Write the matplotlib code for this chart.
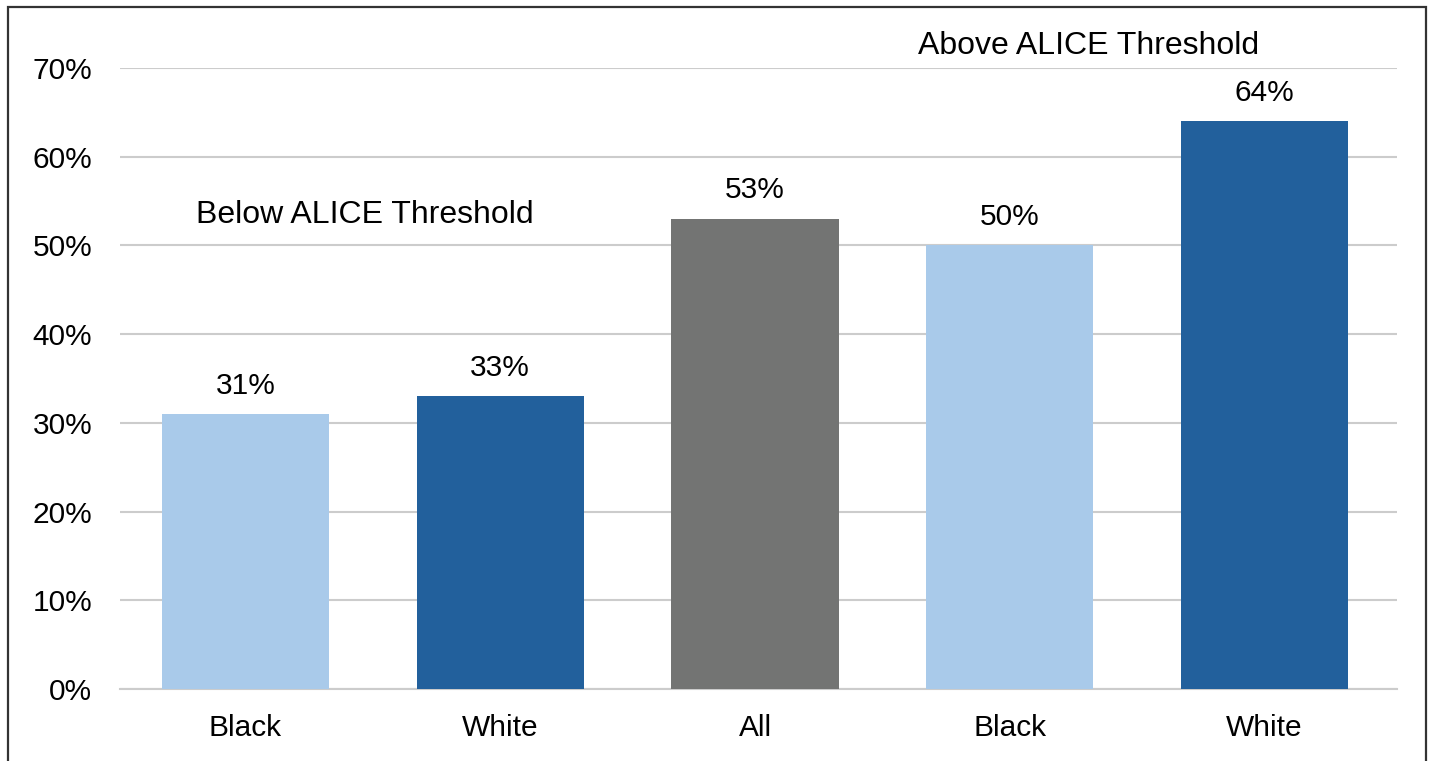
import matplotlib
matplotlib.use("Agg")
import matplotlib.pyplot as plt
from matplotlib.patches import Rectangle

plt.rcParams["font.family"] = ["Liberation Sans", "DejaVu Sans"]

# ALICE threshold shares by group
categories = ["Black", "White", "All", "Black", "White"]
values = [31, 33, 53, 50, 64]
bar_colors = ["#A9CAEA", "#22609C", "#737473", "#A9CAEA", "#22609C"]
yticks = [0, 10, 20, 30, 40, 50, 60, 70]

fig = plt.figure(figsize=(14.31, 7.61), dpi=100)
ax = fig.add_axes([120 / 1431, 1 - 689 / 761, 1277 / 1431, 621 / 761])

x = range(len(values))
ax.bar(x, values, width=0.656, color=bar_colors, zorder=3)

for xi, v in zip(x, values):
    ax.annotate(f"{v}%", (xi, v), xytext=(0, 20.5), textcoords="offset points",
                ha="center", va="center", fontsize=21.5)

ax.set_xlim(-0.4926, 4.52)
ax.set_ylim(0, 70)
ax.set_yticks(yticks)
ax.set_yticklabels([f"{t}%" for t in yticks], fontsize=21.5)
ax.set_xticks(list(x))
ax.set_xticklabels(categories, fontsize=21.5)
ax.tick_params(length=0)
ax.tick_params(axis="y", pad=20)
ax.tick_params(axis="x", pad=18)

ax.grid(axis="y", color="#CCCCCC", linewidth=1.5, zorder=0)
for side in ["top", "right", "left"]:
    ax.spines[side].set_visible(False)
ax.spines["bottom"].set_color("#CCCCCC")
ax.spines["bottom"].set_linewidth(1.5)

ax.text(0.467, 53.4, "Below ALICE Threshold", ha="center", va="center", fontsize=23)
ax.text(3.311, 72.5, "Above ALICE Threshold", ha="center", va="center",
        fontsize=23, clip_on=False)

# outer frame, open at the bottom edge
fig.patches.append(Rectangle((7.5 / 1431, -0.05), 1418 / 1431, 1 - 7.5 / 761 + 0.05,
                             transform=fig.transFigure, fill=False,
                             edgecolor="#333333", linewidth=1.6))

fig.savefig("out.png", dpi=100)
